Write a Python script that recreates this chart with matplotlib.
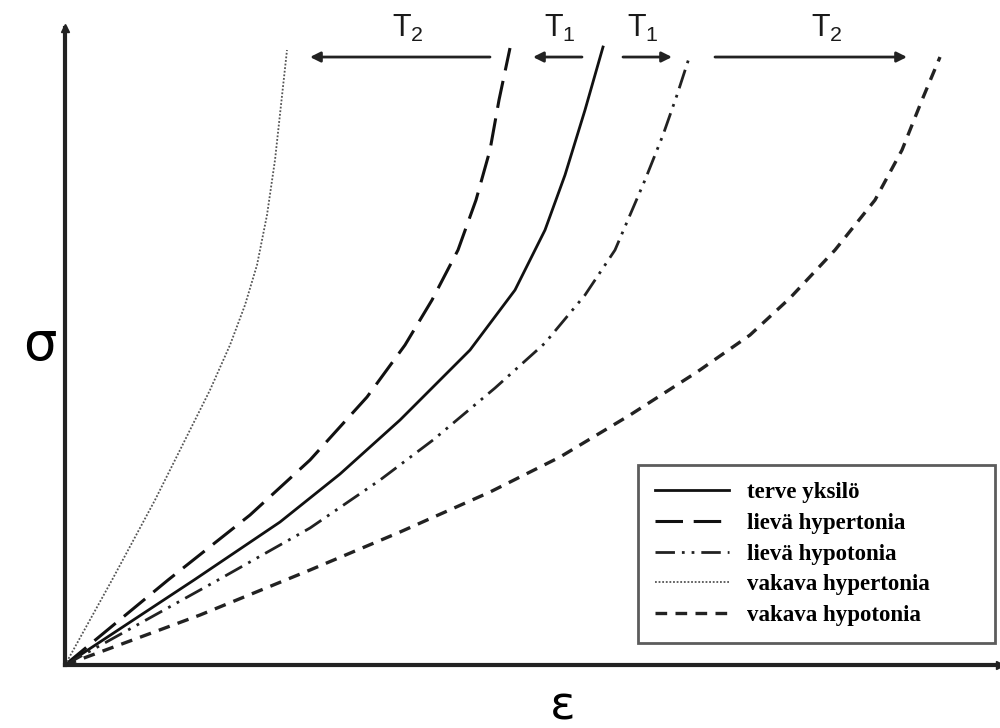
# -*- coding: utf-8 -*-
"""Stress-strain curves: healthy vs. hyper-/hypotonic tissue."""
import matplotlib
matplotlib.use("Agg")
import matplotlib.pyplot as plt

# strain / stress readings (arbitrary units) for each curve
eps_terve = [0.0, 1.29, 2.15, 2.75, 3.35, 4.05, 4.50, 4.80, 5.00, 5.20, 5.38]
sig_terve = [0.0, 0.85, 1.43, 1.91, 2.45, 3.15, 3.75, 4.35, 4.90, 5.55, 6.18]

eps_lieva_hyper = [0.0, 1.03, 1.85, 2.45, 3.02, 3.40, 3.67, 3.93, 4.11, 4.25, 4.34, 4.45]
sig_lieva_hyper = [0.0, 0.85, 1.50, 2.05, 2.68, 3.20, 3.65, 4.15, 4.65, 5.15, 5.65, 6.17]

eps_lieva_hypo = [0.0, 1.53, 2.45, 3.15, 3.68, 4.30, 4.80, 5.20, 5.50, 5.80, 5.98, 6.12, 6.25]
sig_lieva_hypo = [0.0, 0.85, 1.37, 1.85, 2.25, 2.77, 3.22, 3.70, 4.15, 4.85, 5.30, 5.70, 6.10]

eps_vakava_hyper = [0.0, 0.47, 0.90, 1.20, 1.45, 1.65, 1.80, 1.92, 2.02, 2.10, 2.16, 2.22]
sig_vakava_hyper = [0.0, 0.85, 1.65, 2.25, 2.75, 3.20, 3.60, 4.00, 4.50, 5.05, 5.60, 6.15]

eps_vakava_hypo = [0.0, 1.35, 2.45, 3.35, 4.25, 4.95, 5.65, 6.32, 6.85, 7.25,
                   7.70, 8.10, 8.37, 8.57, 8.75]
sig_vakava_hypo = [0.0, 0.50, 0.95, 1.33, 1.73, 2.08, 2.50, 2.93, 3.30, 3.67,
                   4.15, 4.65, 5.15, 5.65, 6.08]

labels = ["terve yksilö", "lievä hypertonia", "lievä hypotonia",
          "vakava hypertonia", "vakava hypotonia"]

# tolerance arrows at the top (start, end) and their labels
arrow_level = 6.08
arrow_spans = [(4.25, 2.45), (5.17, 4.68), (5.58, 6.07), (6.50, 8.42)]
arrow_labels = ["T$_2$", "T$_1$", "T$_1$", "T$_2$"]
label_pos = [3.43, 4.95, 5.78, 7.62]

plt.rcParams["mathtext.fontset"] = "custom"
plt.rcParams["mathtext.rm"] = "Liberation Sans"
plt.rcParams["mathtext.it"] = "Liberation Sans"

fig = plt.figure(figsize=(10, 7.28), dpi=100)
ax = fig.add_axes([0.065, 0.0865, 0.935, 0.875])
ax.set_xlim(0, 9.35)
ax.set_ylim(0, 6.37)

ax.plot(eps_terve, sig_terve, color="#111111", lw=2.0, label=labels[0])
ax.plot(eps_lieva_hyper, sig_lieva_hyper, color="#111111", lw=2.2,
        dashes=(9, 3.5), label=labels[1])
ax.plot(eps_lieva_hypo, sig_lieva_hypo, color="#222222", lw=2.0,
        dashes=(7, 2.5, 1, 2.5, 1, 2.5), label=labels[2])
ax.plot(eps_vakava_hyper, sig_vakava_hyper, color="#555555", lw=1.3,
        dashes=(1, 1), label=labels[3])
ax.plot(eps_vakava_hypo, sig_vakava_hypo, color="#222222", lw=2.4,
        dashes=(3.5, 2.5), label=labels[4])

for (x0, x1), lab, xl in zip(arrow_spans, arrow_labels, label_pos):
    ax.annotate("", xy=(x1, arrow_level), xytext=(x0, arrow_level),
                arrowprops=dict(arrowstyle="-|>", lw=2.0, color="#222222",
                                mutation_scale=15, shrinkA=0, shrinkB=0))
    ax.text(xl, 6.37, lab, ha="center", va="center", fontsize=22,
            family="Liberation Sans", color="#1a1a1a")

# axes drawn as arrows
for side in ("top", "right"):
    ax.spines[side].set_visible(False)
for side in ("left", "bottom"):
    ax.spines[side].set_linewidth(3)
    ax.spines[side].set_color("#222222")
ax.plot([0], [1], marker="^", ms=6, color="#222222", transform=ax.transAxes, clip_on=False)
ax.plot([1], [0], marker=">", ms=6, color="#222222", transform=ax.transAxes, clip_on=False)
ax.set_xticks([])
ax.set_yticks([])

fig.text(0.04, 1 - 345 / 728, "σ", fontsize=38, ha="center", va="center")
fig.text(0.563, 8 / 728, "ε", fontsize=34, ha="center", va="baseline")

leg = ax.legend(loc="upper left", bbox_to_anchor=(0.613, 0.044, 0.382, 0.27),
                mode="expand", frameon=True, fancybox=False,
                prop={"family": "Liberation Serif", "weight": "bold", "size": 16.5},
                handlelength=3.2, handletextpad=0.8, labelspacing=0.42,
                borderpad=0.75, borderaxespad=0)
leg.get_frame().set_edgecolor("#333333")
leg.get_frame().set_linewidth(2.0)

fig.savefig("out.png", dpi=100)
